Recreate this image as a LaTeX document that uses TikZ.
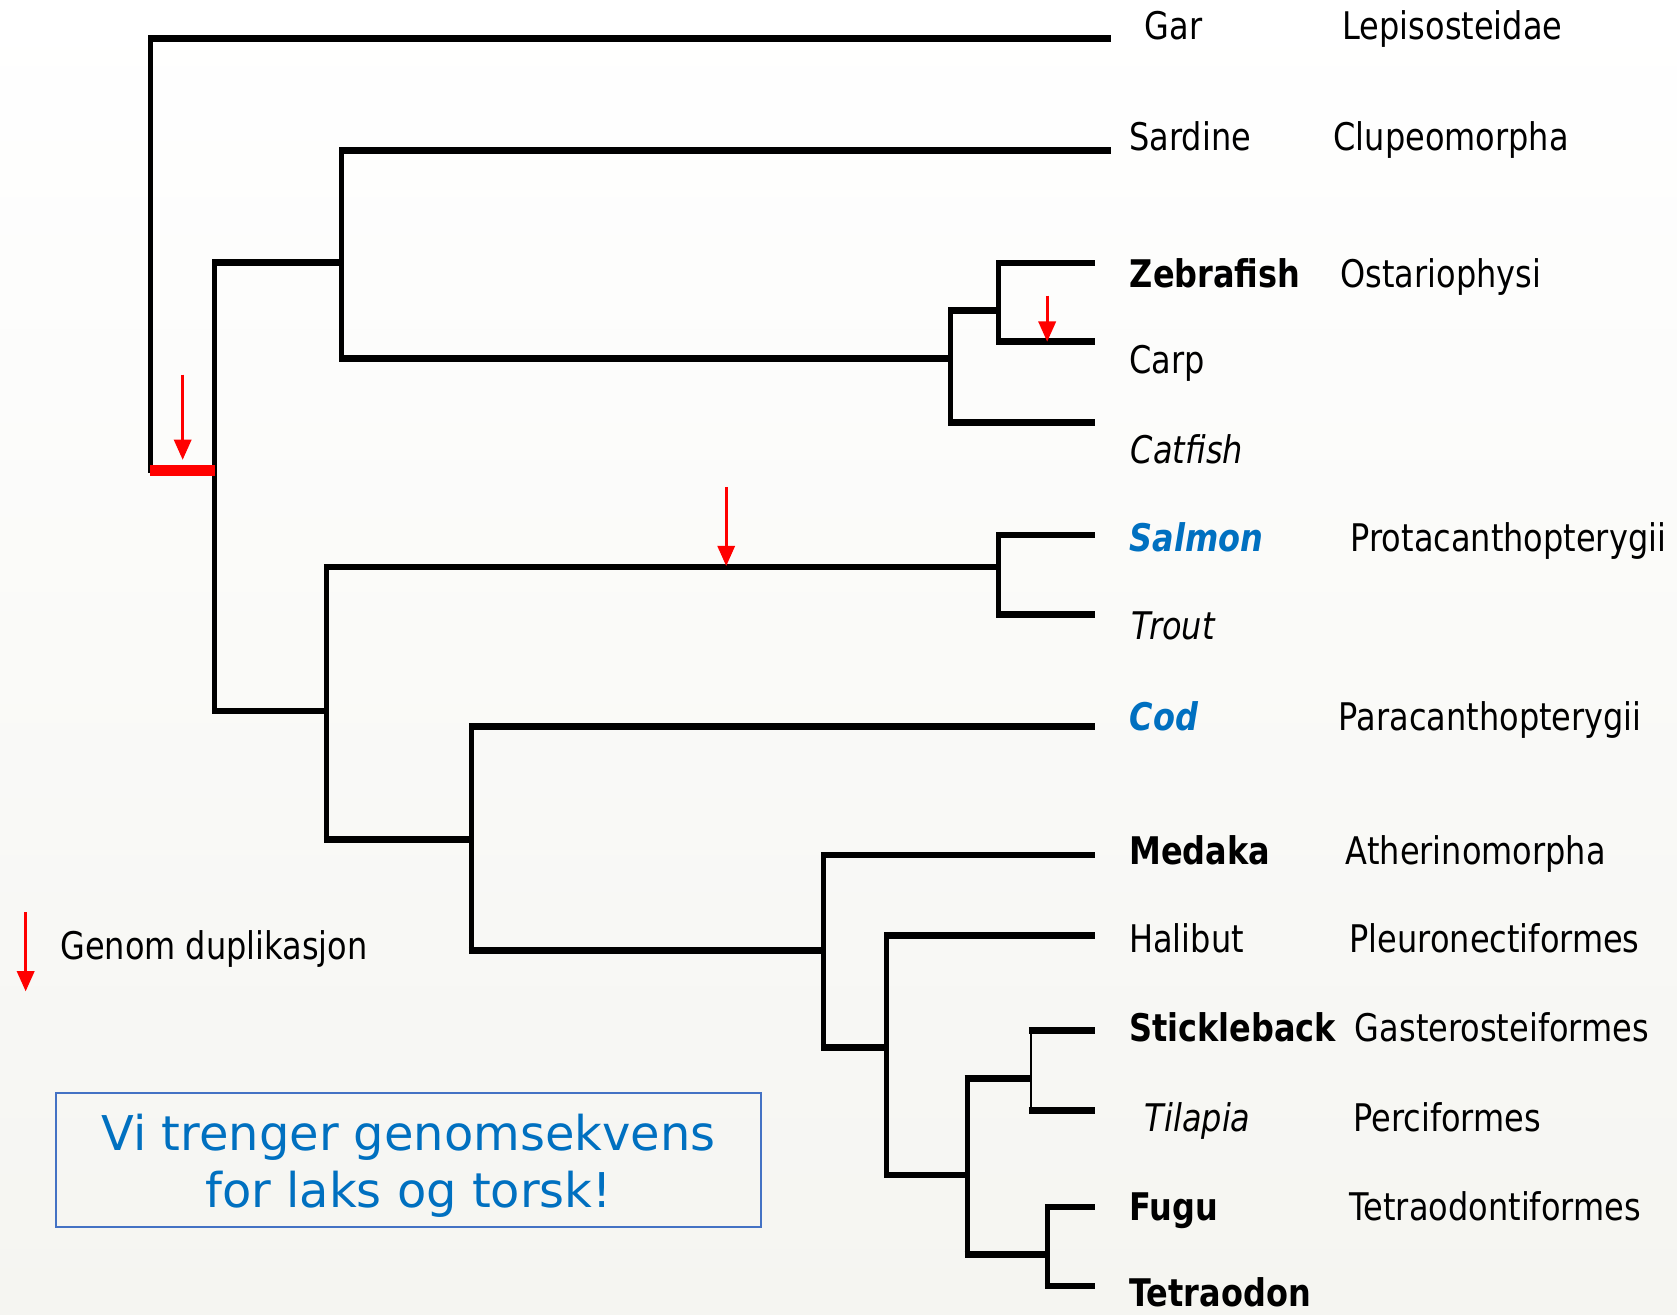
\documentclass[tikz,border=0pt]{standalone}
\usepackage{fontspec}
\setmainfont{DejaVu Sans}[FakeStretch=0.84]
\newfontfamily\boxfont{DejaVu Sans}
\usetikzlibrary{arrows.meta}
\definecolor{treeblue}{HTML}{0070C0}
\definecolor{boxblue}{HTML}{4472C4}
\definecolor{dupred}{HTML}{FF0000}
\definecolor{bgcol}{HTML}{F5F5F1}
\begin{document}
\begin{tikzpicture}[x=0.5pt,y=-0.5pt,
  hl/.style={line width=3.1pt, shorten <=-1.1pt},
  vl/.style={line width=2.4pt, line cap=rect},
  thinv/.style={line width=0.6pt},
  dupbar/.style={draw=dupred, line width=5.3pt},
  duparrow/.style={draw=dupred, line width=1.5pt, -{Triangle[width=8pt,length=9.5pt]}},
  taxon/.style={anchor=base west, inner sep=0pt, font=\fontsize{17.8}{20}\selectfont},
  msg/.style={anchor=base, inner sep=0pt, text=treeblue, font=\boxfont\fontsize{22.4}{26}\selectfont}]
\useasboundingbox (0,0) rectangle (1568,1229);
\fill[top color=white, bottom color=bgcol] (0,0) rectangle (1568,1229);

% tips
\coordinate (tGar) at (1038.5,36.2);
\coordinate (tSar) at (1038.5,140.5);
\coordinate (tZeb) at (1023.6,245.9);
\coordinate (tCarp) at (1023.6,319.6);
\coordinate (tCat) at (1023.6,395.1);
\coordinate (tSal) at (1023.6,500.2);
\coordinate (tTro) at (1023.6,574.6);
\coordinate (tCod) at (1023.6,679.5);
\coordinate (tMed) at (1023.6,799.4);
\coordinate (tHal) at (1023.6,874.4);
\coordinate (tSti) at (1023.6,963.4);
\coordinate (tTil) at (1023.6,1038.2);
\coordinate (tFug) at (1023.6,1128.6);
\coordinate (tTet) at (1023.6,1202.5);
% internal nodes
\coordinate (root) at (140.7,440);
\coordinate (nA) at (200.8,440);
\coordinate (nB) at (319.5,245.6);
\coordinate (nC) at (888.7,335.3);
\coordinate (nD) at (933.7,290.4);
\coordinate (nE) at (305,664.7);
\coordinate (nF) at (933.7,530);
\coordinate (nG) at (440.7,784.8);
\coordinate (nH) at (769.7,888.9);
\coordinate (nI) at (828.8,979.7);
\coordinate (nJ) at (904.2,1098.7);
\coordinate (nK) at (964.1,1008.2);
\coordinate (nL) at (979.2,1172.7);

% root
\draw[vl] (root |- tGar) -- (root);
\draw[hl] (root |- tGar) -- (tGar);
% clades
\foreach \p/\a/\b in {nA/nB/nE, nB/tSar/nC, nC/nD/tCat, nD/tZeb/tCarp,
                      nE/nF/nG, nF/tSal/tTro, nG/tCod/nH, nH/tMed/nI,
                      nI/tHal/nJ, nJ/nK/nL, nL/tFug/tTet}{
  \draw[vl] (\p |- \a) -- (\p |- \b);
  \draw[hl] (\p |- \a) -- (\a);
  \draw[hl] (\p |- \b) -- (\b);
}
\draw[thinv] (nK |- tSti) -- (nK |- tTil);
\draw[hl] (nK |- tSti) -- (tSti);
\draw[hl] (nK |- tTil) -- (tTil);
\draw[dupbar] (root) -- (nA);

% duplication arrows
\coordinate (d1s) at (170.8,350.2); \coordinate (d1e) at (170.8,430);
\coordinate (d2s) at (979.1,276.3); \coordinate (d2e) at (979.1,319.6);
\coordinate (d3s) at (679,455.3);   \coordinate (d3e) at (679,529.3);
\coordinate (d4s) at (24,853);      \coordinate (d4e) at (24,927);
\draw[duparrow] (d1s) -- (d1e);
\draw[duparrow] (d2s) -- (d2e);
\draw[duparrow] (d3s) -- (d3e);
\draw[duparrow] (d4s) -- (d4e);

% taxon labels
\node[taxon] (lGar) at (1070,36.5) {Gar};
\node[taxon] (cGar) at (1255,36.5) {Lepisosteidae};
\node[taxon] (lSar) at (1055.5,141) {Sardine};
\node[taxon] (cSar) at (1246.5,141) {Clupeomorpha};
\node[taxon] (lZeb) at (1056,269) {\bfseries Zebrafish};
\node[taxon] (cZeb) at (1253,269) {Ostariophysi};
\node[taxon] (lCarp) at (1055.5,349.4) {Carp};
\node[taxon] (lCat) at (1057,433) {\itshape Catfish};
\node[taxon] (lSal) at (1056,515.5) {\bfseries\itshape\color{treeblue}Salmon};
\node[taxon] (cSal) at (1262.5,515.5) {Protacanthopterygii};
\node[taxon] (lTro) at (1058,598) {\itshape Trout};
\node[taxon] (lCod) at (1056,683) {\bfseries\itshape\color{treeblue}Cod};
\node[taxon] (cCod) at (1251.5,683) {Paracanthopterygii};
\node[taxon] (lMed) at (1055.5,808) {\bfseries Medaka};
\node[taxon] (cMed) at (1258,808) {Atherinomorpha};
\node[taxon] (lHal) at (1055.5,891) {Halibut};
\node[taxon] (cHal) at (1261.5,891) {Pleuronectiformes};
\node[taxon] (lSti) at (1055.5,974) {\bfseries Stickleback};
\node[taxon] (cSti) at (1266.5,974) {Gasterosteiformes};
\node[taxon] (lTil) at (1070,1057.6) {\itshape Tilapia};
\node[taxon] (cTil) at (1265,1057.6) {Perciformes};
\node[taxon] (lFug) at (1055.5,1141.6) {\bfseries Fugu};
\node[taxon] (cFug) at (1261.5,1141.6) {Tetraodontiformes};
\node[taxon] (lTet) at (1055.5,1222) {\bfseries Tetraodon};

% legend
\node[taxon] (legend) at (56,897) {Genom duplikasjon};

% message box
\node[draw=boxblue, line width=1pt, minimum width=329.5pt, minimum height=62.75pt, inner sep=0pt] (box) at (381.9,1084.5) {};
\node[msg] (msg1) at (382,1076) {Vi trenger genomsekvens};
\node[msg] (msg2) at (382,1129) {for laks og torsk!};
\end{tikzpicture}
\end{document}
